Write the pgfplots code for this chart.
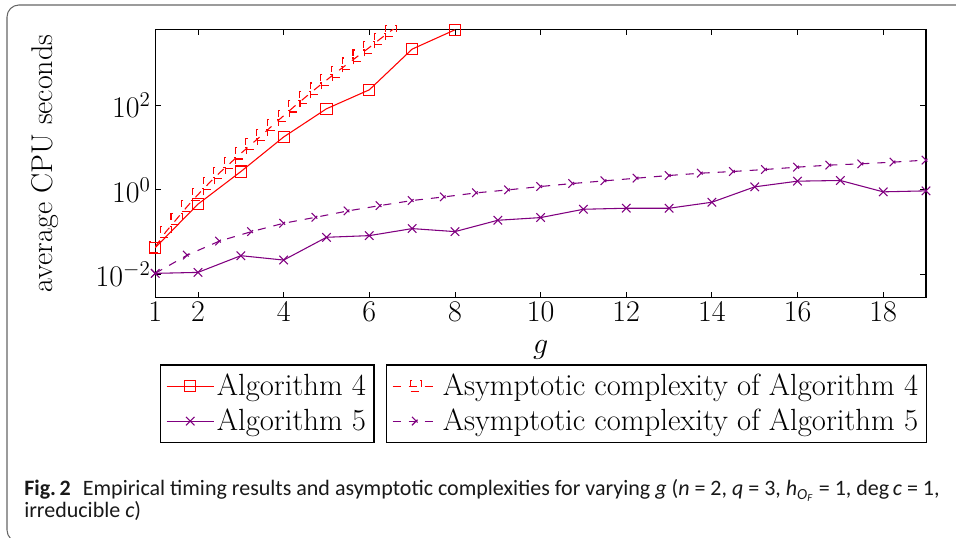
\RequirePackage{fix-cm}
\documentclass[border=0pt]{standalone}
\usepackage{fontspec}
\newfontfamily\capfont{Carlito}
\usepackage{pgfplots}
\pgfplotsset{compat=1.18}
\newcommand\cf{\fontsize{22.5}{27}\selectfont}
\newcommand\lf{\fontsize{23}{27}\selectfont}
\pgfplotstableread{
x y
1 0.043
2 0.46
3 2.7
4 17.7
5 82
6 230
7 2100
8 6000
}\algfour
\pgfplotstableread{
x y
1 0.01067
2 0.01125
3 0.0279
4 0.0220
5 0.0759
6 0.0830
7 0.1216
8 0.1033
9 0.1914
10 0.2213
11 0.348
12 0.368
13 0.368
14 0.510
15 1.178
16 1.603
17 1.663
18 0.897
19 0.946
}\algfive
\pgfplotstableread{
x y
1.00 0.0447
1.25 0.1023
1.50 0.2042
1.75 0.4074
2.00 0.7762
2.25 1.413
2.50 2.512
2.75 4.266
3.00 7.244
3.25 12.02
3.50 19.95
3.75 33.88
4.00 56.23
4.25 93.33
4.50 151.4
4.75 245.5
5.00 389.0
5.25 616.6
5.50 955
5.75 1479
6.00 2291
6.25 3631
6.50 5623
6.75 8710
7.00 13490
}\asymfour
\pgfplotstableread{
x y
1 0.0107
1.75 0.0288
2.5 0.0617
3.25 0.1033
4.0 0.1626
4.75 0.2254
5.5 0.3184
6.25 0.4256
7.0 0.5598
7.75 0.6823
8.5 0.8492
9.25 1.0
10 1.1995
10.75 1.4125
11.5 1.633
12.25 1.888
13 2.183
13.75 2.477
14.5 2.716
15.25 3.027
16 3.436
16.75 3.837
17.5 4.121
18.25 4.519
19 5.035
}\asymfive
\pgfplotsset{
  aFour/.style={red, line width=0.8pt, mark=square, mark size=4.2pt},
  aFive/.style={violet, line width=0.8pt, mark=x, mark size=4.5pt},
  sFour/.style={red, line width=0.8pt, dash pattern=on 6pt off 6pt, mark=square, mark size=4.2pt},
  sFive/.style={violet, line width=0.8pt, dash pattern=on 6pt off 6pt, mark=x, mark size=4.5pt},
  myleg/.style={
    legend style={font=\lf, draw=black, line width=0.9pt, legend cell align=left, anchor=north west,
      inner xsep=4pt, inner ysep=5pt, row sep=4.5pt,
      every odd column/.append style={column sep=3pt}},
    legend image code/.code={\draw[mark repeat=2,mark phase=2,##1] plot coordinates {(0cm,0cm) (0.62cm,0cm) (1.24cm,0cm)};},
  },
}
\begin{document}
\begin{tikzpicture}
\useasboundingbox (0,0) rectangle (717pt,403.5pt);
\begin{scope}
\clip (0,0) rectangle (717pt,403.5pt);
\draw[black!60, line width=0.8pt, rounded corners=9pt] (730pt,399.75pt) -- (5.25pt,399.75pt) -- (5.25pt,-3pt) -- (40pt,-3pt);
\end{scope}
\begin{axis}[
  at={(116.4pt,180.5pt)}, anchor=south west,
  scale only axis, width=578.1pt, height=201pt,
  ymode=log, xmin=1, xmax=19, ymin=2.9e-3, ymax=6160,
  xtick={1,2,4,6,8,10,12,14,16,18},
  ytick={1e-2,1,1e2},
  yminorticks=false,
  tick label style={font=\cf},
  label style={font=\cf},
  xlabel={$g$}, ylabel={average CPU seconds},
  xlabel style={at={(axis description cs:0.5,-0.209)},anchor=base},
  ylabel style={at={(axis description cs:-0.143,0.5)},anchor=center},
  axis line style={line width=0.8pt},
  major tick length=0.15cm,
  every tick/.style={black, line width=0.6pt},
  myleg,
  legend style={at={(0.0065,-0.25)}},
]
\addplot[aFour] table[x=x,y=y] {\algfour};
\addplot[aFive] table[x=x,y=y] {\algfive};
\addplot[sFour] table[x=x,y=y] {\asymfour};
\addplot[sFive] table[x=x,y=y] {\asymfive};
\legend{Algorithm 4, Algorithm 5}
\end{axis}
\begin{axis}[
  at={(116.4pt,180.5pt)}, anchor=south west,
  scale only axis, width=578.1pt, height=201pt,
  hide axis, xmin=1, xmax=19, ymin=1, ymax=2,
  myleg,
  legend style={at={(0.2996,-0.25)}},
]
\addlegendimage{sFour}
\addlegendentry{Asymptotic complexity of Algorithm 4}
\addlegendimage{sFive}
\addlegendentry{Asymptotic complexity of Algorithm 5}
\end{axis}
\node[anchor=base west, inner sep=0pt, font=\capfont\fontsize{16.5}{20}\selectfont, text=black!90] at (18pt,31.5pt)
  {{\bfseries Fig.\,2}\hspace{9pt}Empirical timing results and asymptotic complexities for varying \textit{g} (\textit{n} = 2, \textit{q} = 3, \textit{h}\textsubscript{\textit{O}\textsubscript{\textit{F}}} = 1, deg\,\textit{c} = 1,};
\node[anchor=base west, inner sep=0pt, font=\capfont\fontsize{16.5}{20}\selectfont, text=black!90] at (18pt,15pt)
  {irreducible \textit{c})};
\end{tikzpicture}
\end{document}
